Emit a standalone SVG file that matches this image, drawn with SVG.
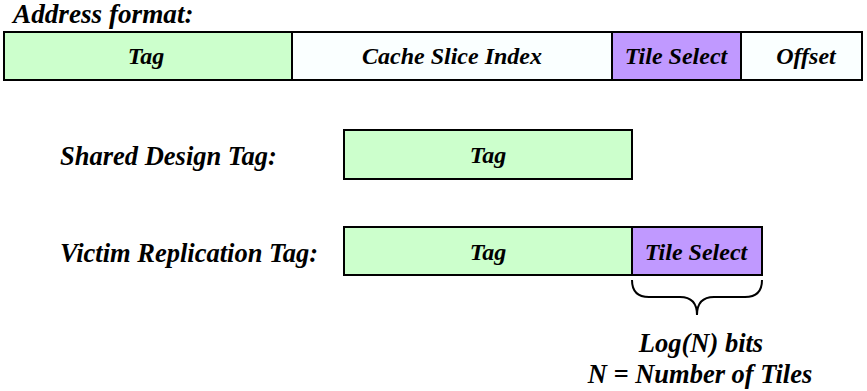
<svg xmlns="http://www.w3.org/2000/svg" width="867" height="391" viewBox="0 0 867 391">
<style>
text{font-weight:bold;font-style:italic;fill:#000}
.b{font-size:24px;text-anchor:middle}
.l{font-size:26.5px}
.box{stroke:#000;stroke-width:2}
.g{fill:#CCFFCC}
.p{fill:#C099FF}
.w{fill:#FAFFFF}
.brace{fill:none;stroke:#000;stroke-width:2}
</style>
<rect width="867" height="391" fill="#fff"/>
<g font-family="'Liberation Serif', 'DejaVu Serif', serif">
<text class="l" x="13" y="23" style="font-size:27.2px">Address format:</text>
<g id="addr">
<rect class="box g" x="4" y="32" width="288" height="48"/>
<rect class="box w" x="292" y="32" width="320" height="48"/>
<rect class="box p" x="612" y="32" width="129" height="48"/>
<rect class="box w" x="741" y="32" width="121" height="48"/>
<text class="b" x="146" y="64">Tag</text>
<text class="b" x="452" y="64">Cache Slice Index</text>
<text class="b" x="676" y="64">Tile Select</text>
<text class="b" x="806" y="64">Offset</text>
</g>
<g id="shared">
<text class="l" x="60" y="165">Shared Design Tag:</text>
<rect class="box g" x="344" y="130" width="288" height="49"/>
<text class="b" x="488" y="163">Tag</text>
</g>
<g id="victim">
<text class="l" x="60" y="262">Victim Replication Tag:</text>
<rect class="box g" x="344" y="227" width="288" height="48"/>
<rect class="box p" x="632" y="227" width="130" height="48"/>
<text class="b" x="488" y="260">Tag</text>
<text class="b" x="696" y="260">Tile Select</text>
</g>
<g id="connectors">
<path class="brace" d="M632,280 Q632,297 649,297 L680,297 Q697,297 697,315 Q697,297 714,297 L745,297 Q762,297 762,280"/>
</g>
<g id="note">
<text class="l" x="701" y="352" text-anchor="middle">Log(N) bits</text>
<text class="l" x="700" y="383" text-anchor="middle">N = Number of Tiles</text>
</g>
</g>
</svg>
